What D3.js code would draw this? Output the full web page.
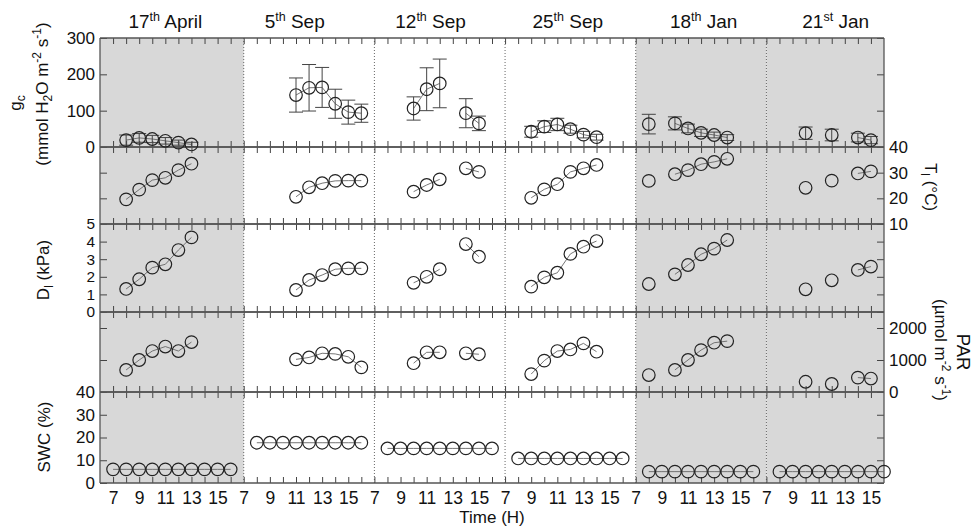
<!DOCTYPE html>
<html><head><meta charset="utf-8">
<script src="https://cdn.jsdelivr.net/npm/d3@7"></script>
<style>
body{margin:0;background:#fff}
svg{display:block}
text{font-family:"Liberation Sans",Arial,Helvetica,sans-serif;fill:#111}
</style>
</head><body>
<svg id="chart" width="976" height="528"></svg>
<script>
// ---------------- DATA ----------------
const dayNumbers   = ["17","5","12","25","18","21"];
const daySuffixes  = ["th","th","th","th","th","st"];
const monthNames   = ["April","Sep","Sep","Sep","Jan","Jan"];
const shadedDays   = [true,false,false,false,true,true];
const dayFirstHour = [6,7,7,7,7,7];
const dayLastHour  = [17,17,17,17,17,16];
const hourTickLabels = [7,9,11,13,15];

// measurement hours (gc, Tl, Dl, PAR share them)
const measHours = [
  [8,9,10,11,12,13],
  [11,12,13,14,15,16],
  [10,11,12,14,15],
  [9,10,11,12,13,14],
  [8,10,11,12,13,14],
  [10,12,14,15]
];
const gcMean = [
  [19,25,22,17,12,7],
  [143,163,164,119,96,93],
  [106,159,175,93,65],
  [42,56,62,49,34,27],
  [63,65,51,39,33,26],
  [38,33,26,19]
];
const gcErr = [
  [14,12,10,9,7,6],
  [47,64,55,40,33,25],
  [32,59,67,40,20],
  [15,16,17,11,9,8],
  [27,18,12,10,8,8],
  [17,16,12,10]
];
const tlValues = [
  [19.6,23.4,27.1,28.0,31.0,33.5],
  [20.6,24.3,25.9,26.8,26.9,26.9],
  [22.6,25.2,27.4,31.7,30.3],
  [20.2,23.5,25.5,30.3,31.7,33.0],
  [26.8,29.4,31.0,33.3,34.2,35.4],
  [24.1,26.9,29.7,30.5]
];
const dlValues = [
  [1.31,1.86,2.52,2.71,3.52,4.24],
  [1.25,1.82,2.10,2.43,2.48,2.48],
  [1.66,2.00,2.43,3.86,3.14],
  [1.44,1.97,2.23,3.30,3.71,4.03],
  [1.59,2.14,2.67,3.28,3.60,4.09],
  [1.29,1.80,2.39,2.58]
];
const parValues = [
  [690,1000,1280,1420,1280,1560],
  [1020,1080,1210,1190,1100,770],
  [900,1240,1240,1210,1180],
  [560,980,1280,1330,1520,1260],
  [530,690,1000,1310,1540,1590],
  [320,250,450,420]
];
const swcHours = [
  [7,8,9,10,11,12,13,14,15,16],
  [8,9,10,11,12,13,14,15,16],
  [8,9,10,11,12,13,14,15,16],
  [8,9,10,11,12,13,14,15,16],
  [8,9,10,11,12,13,14,15,16],
  [8,9,10,11,12,13,14,15,16]
];
const swcValues = [
  [6.0,6.0,6.0,6.0,6.0,6.0,6.0,6.0,6.0,6.0],
  [17.7,17.7,17.7,17.7,17.7,17.7,17.7,17.7,17.7],
  [15.2,15.2,15.2,15.2,15.2,15.2,15.2,15.2,15.2],
  [10.8,10.8,10.8,10.8,10.8,10.8,10.8,10.8,10.8],
  [5.0,5.0,5.0,5.0,5.0,5.0,5.0,5.0,5.0],
  [5.0,5.0,5.0,5.0,5.0,5.0,5.0,5.0,5.0]
];
const gcTicks  = [0,100,200,300];
const tlTicks  = [10,20,30,40];
const dlTicks  = [0,1,2,3,4,5];
const parTicks = [0,1000,2000];
const swcTicks = [0,10,20,30,40];

// ---------------- LAYOUT ----------------
const L = 100, R = 884, TOP = 38, BOT = 483;
const FS = 17;
const svg = d3.select("#chart");

// hour offsets per day on one continuous axis
const spans = dayFirstHour.map((f,i)=>dayLastHour[i]-f);
const offsets = spans.map((s,i)=>d3.sum(spans.slice(0,i)));
const total = d3.sum(spans);
const x = d3.scaleLinear().domain([0,total]).range([L,R]);
const U = (c,h)=>offsets[c] + h - dayFirstHour[c];

const rows = [
  {top:38,  bot:147, domain:[0,300],  ticks:gcTicks,  side:"left",  fs:FS},
  {top:147, bot:224, domain:[10,40],  ticks:tlTicks,  side:"right", fs:FS},
  {top:224, bot:312, domain:[0,5],    ticks:dlTicks,  side:"left",  fs:15.4},
  {top:312, bot:392, domain:[0,2500], ticks:parTicks, side:"right", fs:FS},
  {top:392, bot:483, domain:[0,40],   ticks:swcTicks, side:"left",  fs:FS}
];
rows.forEach(r=>{ r.y = d3.scaleLinear().domain(r.domain).range([r.bot,r.top]); });

// shaded backgrounds
dayFirstHour.forEach((f,c)=>{
  if(!shadedDays[c]) return;
  svg.append("rect").attr("x",x(offsets[c])).attr("y",TOP)
    .attr("width",x(offsets[c]+spans[c])-x(offsets[c])).attr("height",BOT-TOP)
    .attr("fill","#d8d8d8");
});
// dotted day separators
offsets.slice(1).forEach(o=>{
  svg.append("line").attr("x1",x(o)).attr("x2",x(o)).attr("y1",TOP).attr("y2",BOT)
    .attr("stroke","#666").attr("stroke-width",1).attr("stroke-dasharray","1,2");
});

// hour ticks per row (inward, top & bottom)
const hourTicks = d3.range(1,total);
function styleAxis(g, fs){
  g.select(".domain").remove();
  g.selectAll(".tick line").attr("stroke","#444").attr("stroke-width",1);
  g.selectAll("text").attr("font-size",fs||FS).attr("font-family",'"Liberation Sans",Arial,sans-serif').attr("fill","#111");
}
rows.forEach(r=>{
  svg.append("g").attr("transform",`translate(0,${r.top})`)
    .call(d3.axisBottom(x).tickValues(hourTicks).tickSize(6).tickFormat("")).call(styleAxis);
  svg.append("g").attr("transform",`translate(0,${r.bot})`)
    .call(d3.axisTop(x).tickValues(hourTicks).tickSize(6).tickFormat("")).call(styleAxis);
  // y axes both sides
  svg.append("g").attr("transform",`translate(${L},0)`)
    .call(d3.axisLeft(r.y).tickValues(r.ticks).tickSizeInner(-7).tickSizeOuter(0).tickPadding(5)
      .tickFormat(r.side==="left"?d3.format("d"):()=>"")).call(styleAxis, r.fs);
  svg.append("g").attr("transform",`translate(${R},0)`)
    .call(d3.axisRight(r.y).tickValues(r.ticks).tickSizeInner(-7).tickSizeOuter(0).tickPadding(5)
      .tickFormat(r.side==="right"?d3.format("d"):()=>"")).call(styleAxis, r.fs);
});
// horizontal row boundaries and frame
rows.forEach(r=>{
  [r.top,r.bot].forEach(yy=>svg.append("line").attr("x1",L).attr("x2",R).attr("y1",yy).attr("y2",yy)
    .attr("stroke","#555").attr("stroke-width",1.3));
});
[L,R].forEach(xx=>svg.append("line").attr("x1",xx).attr("x2",xx).attr("y1",TOP).attr("y2",BOT)
  .attr("stroke","#555").attr("stroke-width",1.3));

// x tick labels
const labelTicks = [];
dayFirstHour.forEach((f,c)=>hourTickLabels.forEach(h=>labelTicks.push({u:U(c,h),h})));
svg.append("g").attr("transform",`translate(0,${BOT})`)
  .call(d3.axisBottom(x).tickValues(labelTicks.map(d=>d.u)).tickSize(0).tickPadding(9)
    .tickFormat(u=>labelTicks.find(d=>d.u===u).h)).call(styleAxis, 17.5);

// ---------------- SERIES ----------------
const lineGen = d3.line();
function drawSeries(row, hoursArr, valsArr, errArr){
  const g = svg.append("g");
  hoursArr.forEach((hours,c)=>{
    const pts = hours.map((h,i)=>({h, u:U(c,h), v:valsArr[c][i], e:errArr?errArr[c][i]:null}));
    // runs of consecutive hours
    const runs = []; let cur=[];
    pts.forEach((p,i)=>{ if(i>0 && p.h-pts[i-1].h>1){runs.push(cur);cur=[];} cur.push(p); });
    runs.push(cur);
    runs.filter(r=>r.length>1).forEach(run=>{
      g.append("path").attr("d",lineGen(run.map(p=>[x(p.u),row.y(p.v)])))
        .attr("fill","none").attr("stroke","#666").attr("stroke-width",0.9);
    });
    if(errArr){
      pts.forEach(p=>{
        const xx=x(p.u), y1=row.y(p.v-p.e), y2=row.y(p.v+p.e);
        g.append("line").attr("x1",xx).attr("x2",xx).attr("y1",y1).attr("y2",y2).attr("stroke","#444").attr("stroke-width",1);
        [y1,y2].forEach(yy=>g.append("line").attr("x1",xx-7).attr("x2",xx+7).attr("y1",yy).attr("y2",yy).attr("stroke","#444").attr("stroke-width",1));
      });
    }
    pts.forEach(p=>{
      g.append("circle").attr("cx",x(p.u)).attr("cy",row.y(p.v)).attr("r",6.3)
        .attr("fill","none").attr("stroke","#222").attr("stroke-width",1.2);
    });
  });
}
drawSeries(rows[0], measHours, gcMean, gcErr);
drawSeries(rows[1], measHours, tlValues);
drawSeries(rows[2], measHours, dlValues);
drawSeries(rows[3], measHours, parValues);
drawSeries(rows[4], swcHours, swcValues);

// ---------------- TEXT ----------------
const titleHour = [11.0, 10.9, 11.3, 11.8, 12.2, 12.3];
dayNumbers.forEach((n,c)=>{
  const t = svg.append("text").attr("x",x(U(c,titleHour[c]))).attr("y",28)
    .attr("text-anchor","middle").attr("font-size",19);
  t.append("tspan").text(n);
  t.append("tspan").attr("font-size",12.5).attr("dy",-7).text(daySuffixes[c]);
  t.append("tspan").attr("dy",7).text(" "+monthNames[c]);
});

function rotLabel(xp, yp, angle, parts, size){
  const t = svg.append("text").attr("transform",`translate(${xp},${yp}) rotate(${angle})`)
    .attr("text-anchor","middle").attr("font-size",size||FS);
  let shift=0;
  parts.forEach(p=>{
    const s = t.append("tspan").text(p[0]);
    let target = 0;
    if(p[1]==="sup"){ target=-7; s.attr("font-size",12); }
    else if(p[1]==="sub"){ target=4; s.attr("font-size",12); }
    s.attr("dy", target-shift); shift=target;
  });
  return t;
}
// left labels
rotLabel(21, 103, -90, [["g"],["c","sub"]]);
rotLabel(48, 94, -90, [["(mmol H"],["2","sub"],["O m"],["-2","sup"],[" s"],["-1","sup"],[")"]]);
rotLabel(49, 270, -90, [["D"],["l","sub"],[" (kPa)"]]);
rotLabel(50, 437, -90, [["SWC (%)"]]);
// right labels
rotLabel(925, 187, 90, [["T"],["l","sub"],[" (°C)"]]);
rotLabel(957, 352, 90, [["PAR"]], 18.5);
rotLabel(935, 350, 90, [["(µmol m"],["-2","sup"],[" s"],["-1","sup"],[")"]]);
// x label
svg.append("text").attr("x",492).attr("y",523).attr("text-anchor","middle").attr("font-size",FS).text("Time (H)");
</script>
</body></html>
